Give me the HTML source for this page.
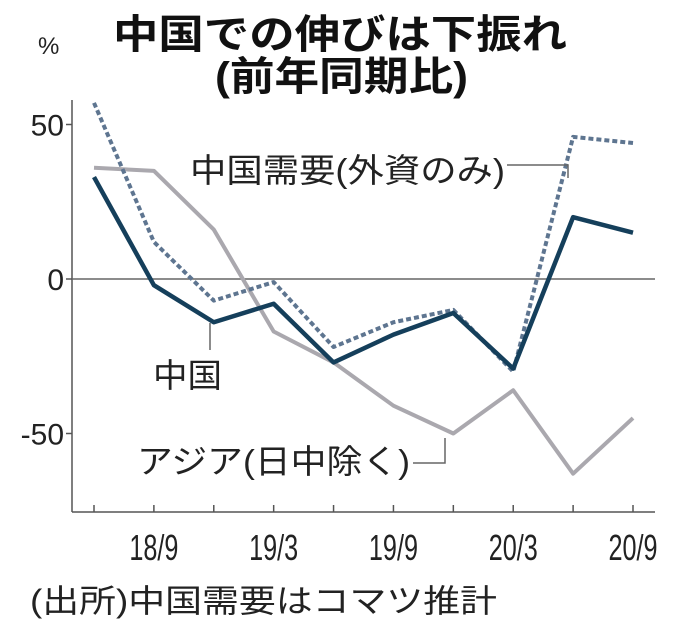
<!DOCTYPE html>
<html><head><meta charset="utf-8"><style>
body{margin:0;background:#fff;width:680px;height:633px;overflow:hidden;font-family:"Liberation Sans","Noto Sans CJK JP",sans-serif;}
</style></head><body>
<svg width="680" height="633" font-family="Liberation Sans, Noto Sans CJK JP, sans-serif">
<text x="113" y="48" textLength="454" lengthAdjust="spacingAndGlyphs" font-size="40" font-weight="bold" fill="#111">中国での伸びは下振れ</text>
<text x="215" y="90" textLength="253" lengthAdjust="spacingAndGlyphs" font-size="40" font-weight="bold" fill="#111">(前年同期比)</text>
<text x="38" y="54" font-size="24" fill="#222">%</text>
<g id="axes"></g>
<g id="series"></g>
<text x="190" y="182" textLength="315" lengthAdjust="spacingAndGlyphs" font-size="33" fill="#222">中国需要(外資のみ)</text>
<path d="M507 165 H568 V178" stroke="#666" stroke-width="1.5" fill="none"/>
<text x="153" y="387" textLength="69" lengthAdjust="spacingAndGlyphs" font-size="33" fill="#222">中国</text>
<path d="M210 323 V350" stroke="#666" stroke-width="1.5" fill="none"/>
<text x="137" y="473" textLength="273" lengthAdjust="spacingAndGlyphs" font-size="33" fill="#222">アジア(日中除く)</text>
<path d="M413 463 H445 V438" stroke="#666" stroke-width="1.5" fill="none"/>
<text x="30" y="612" textLength="467" lengthAdjust="spacingAndGlyphs" font-size="32" fill="#222">(出所)中国需要はコマツ推計</text>
</svg>
<script>
const categories=['18/6','18/9','18/12','19/3','19/6','19/9','19/12','20/3','20/6','20/9'];
const tickLabels=['18/9','19/3','19/9','20/3','20/9'];
const yTicks=[50,0,-50];
const china=[33,-2,-14,-8,-27,-18,-11,-29,20,15];
const foreign=[57,12,-7,-1,-22,-14,-10,-30,46,44];
const asia=[36,35,16,-17,-27,-41,-50,-36,-63,-45];
const NS='http://www.w3.org/2000/svg';
function x(i){return 94+i*(633-94)/(categories.length-1);}
function y(v){return 279-v*3.09;}
function mk(t,a,p){const e=document.createElementNS(NS,t);for(const k in a)e.setAttribute(k,a[k]);p.appendChild(e);return e;}
const ax=document.getElementById('axes');
const l1=mk('line',{x1:72,y1:100,x2:72,y2:512,stroke:'#555','stroke-width':1.5},ax);


const l2=mk('line',{x1:72,y1:512,x2:655,y2:512,stroke:'#555','stroke-width':1.5},ax);


const z=mk('line',{x1:72,y1:y(0),x2:655,y2:y(0),stroke:'#666','stroke-width':1.5},ax);


yTicks.forEach(v=>{
 const t=mk('line',{x1:66,y1:y(v),x2:72,y2:y(v),stroke:'#555','stroke-width':1.5},ax);
 
 
 const tx=mk('text',{x:64,y:y(v)+11,'text-anchor':'end','font-size':30,fill:'#222'},ax);
 tx.textContent=v;
 
 
});
categories.forEach((c,i)=>{
 const t=mk('line',{x1:x(i),y1:505,x2:x(i),y2:512,stroke:'#555','stroke-width':1.5},ax);
 
 
 const k=tickLabels.indexOf(c);
 if(k>=0){
  const tx=mk('text',{x:x(i),y:560,'text-anchor':'middle','font-size':36,fill:'#222',transform:`translate(${x(i)},0) scale(0.70,1) translate(${-x(i)},0)`},ax);
  tx.textContent=c;
  
  
 }
});
const sg=document.getElementById('series');
function line(d,col,w,dash,name){
 const p=mk('polyline',{points:d.map((v,i)=>x(i)+','+y(v)).join(' '),fill:'none',stroke:col,'stroke-width':w,'stroke-linejoin':'round'},sg);
 if(dash)p.setAttribute('stroke-dasharray',dash);
 
 
}
line(asia,'#aaa8ae',4,null,'line-asia');
line(foreign,'#5e7590',4,'5,3','line-foreign-demand');
line(china,'#153f5b',4.5,null,'line-china');
</script>
</body></html>
